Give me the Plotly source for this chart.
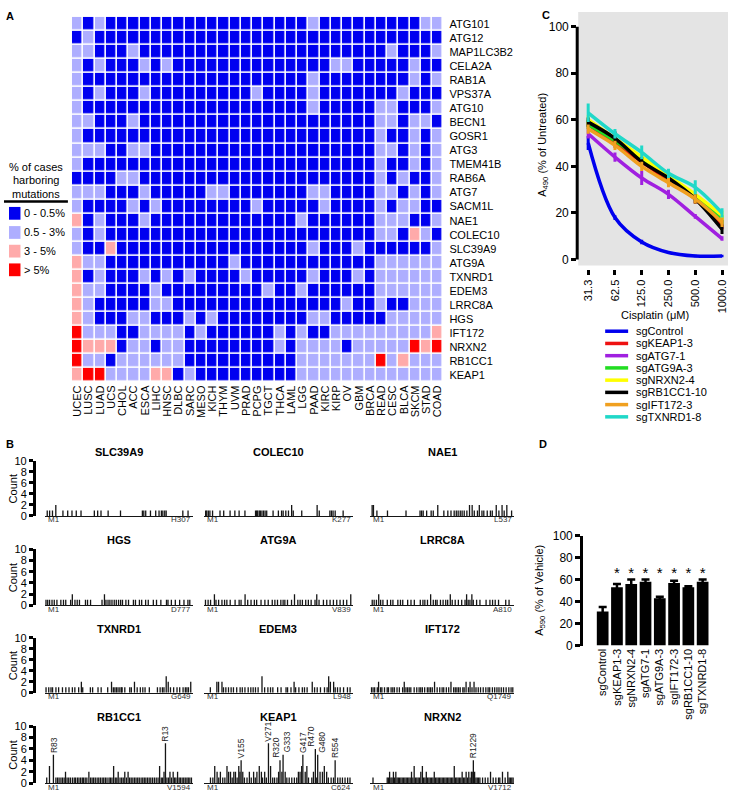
import math
import plotly.graph_objects as go

W, H = 729, 799
FONT = "Liberation Sans, Arial, Helvetica, sans-serif"


def fx(x):
    return x / W


def fy(y):
    return 1 - y / H


# ---------------- Panel A data ----------------
cancer_types = ["UCEC", "LUSC", "LUAD", "UCS", "CHOL", "ACC", "ESCA", "LIHC", "HNSC", "DLBC", "SARC",
                "MESO", "KICH", "THYM", "UVM", "PRAD", "PCPG", "TGCT", "THCA", "LAML", "LGG", "PAAD",
                "KIRC", "KIRP", "OV", "GBM", "BRCA", "READ", "CESC", "BLCA", "SKCM", "STAD", "COAD"]
genes = ["ATG101", "ATG12", "MAP1LC3B2", "CELA2A", "RAB1A", "VPS37A", "ATG10", "BECN1", "GOSR1", "ATG3",
         "TMEM41B", "RAB6A", "ATG7", "SACM1L", "NAE1", "COLEC10", "SLC39A9", "ATG9A", "TXNRD1", "EDEM3",
         "LRRC8A", "HGS", "IFT172", "NRXN2", "RB1CC1", "KEAP1"]
# 0: 0-0.5%, 1: 0.5-3%, 2: 3-5%, 3: >5%
mutation_bins = [
    [1,0,1,0,0,0,0,0,0,0,0,0,0,0,0, 0,0,0,0,0,0,1,0,0,0,0,0,0,0,0,0,1,1],
    [0,1,0,0,0,0,0,0,0,0,0,0,0,0,0, 0,0,0,0,0,0,0,0,0,0,0,0,0,0,0,0,0,0],
    [1,1,0,0,0,1,0,0,0,0,0,0,0,0,0, 0,0,0,0,0,0,0,0,0,0,0,0,0,1,0,0,0,1],
    [1,0,1,0,0,0,1,0,1,0,0,0,0,0,0, 0,0,0,0,0,0,0,0,1,1,0,0,0,0,0,1,0,0],
    [1,0,0,0,0,0,0,0,0,0,0,0,0,0,0, 0,0,0,0,0,0,1,0,0,0,0,0,0,0,0,1,0,1],
    [1,0,1,0,0,0,1,0,0,0,0,0,0,0,0, 0,1,0,0,0,0,1,0,0,0,0,0,0,0,1,0,0,0],
    [1,0,0,0,0,0,0,0,0,0,0,0,0,0,0, 0,0,0,0,0,0,1,0,0,0,0,0,1,1,0,0,0,1],
    [1,1,0,0,0,1,0,0,0,0,0,0,0,0,0, 0,0,0,0,0,0,0,0,0,0,0,0,1,1,0,1,1,0],
    [1,0,0,0,0,0,0,0,0,0,0,0,0,0,0, 0,0,0,0,0,0,0,0,0,0,0,0,1,0,0,1,0,1],
    [1,1,1,0,0,1,1,0,0,0,0,0,0,0,0, 0,0,0,0,0,0,0,0,0,0,0,0,1,1,0,1,0,1],
    [1,0,0,0,0,0,0,0,0,0,0,0,0,0,0, 0,0,0,0,0,0,0,0,0,0,0,0,1,0,0,1,0,1],
    [0,0,0,0,1,1,0,0,0,0,0,0,0,0,0, 0,0,0,0,0,0,0,0,0,0,0,0,1,0,1,0,0,1],
    [1,1,1,0,0,0,1,0,0,0,0,0,1,1,0, 0,0,0,0,0,0,1,1,0,0,0,0,1,1,0,1,0,1],
    [1,0,0,0,0,1,0,1,0,0,0,0,0,0,0, 0,1,0,0,0,0,0,1,0,0,0,0,1,0,1,1,0,0],
    [2,0,1,0,0,0,1,0,0,0,0,0,0,0,0, 0,0,0,0,0,1,0,0,0,0,0,0,1,1,1,0,0,1],
    [1,0,1,0,0,0,0,0,0,0,0,0,0,0,0, 0,0,0,0,0,0,0,0,0,0,0,0,1,1,0,2,1,0],
    [1,0,0,2,0,0,0,0,0,0,0,0,0,0,0, 0,0,0,0,0,0,1,0,0,0,1,0,0,0,0,0,0,1],
    [2,1,1,0,0,0,0,0,0,0,0,0,0,0,1, 0,0,0,0,0,0,0,0,0,0,0,0,1,1,1,1,1,1],
    [2,0,1,0,0,0,1,0,1,0,1,0,0,0,0, 1,0,0,0,0,0,1,0,0,0,1,0,1,1,1,1,1,1],
    [2,1,1,0,0,0,0,1,0,0,0,0,0,0,0, 0,0,1,0,0,1,0,0,0,0,0,0,1,1,1,1,1,1],
    [2,1,0,0,0,0,0,1,1,0,0,0,0,0,0, 0,0,0,0,0,0,0,0,0,1,0,0,1,0,0,1,1,1],
    [2,1,0,0,0,1,1,0,0,0,1,0,1,0,0, 0,0,0,0,0,0,1,1,0,0,0,0,0,1,1,1,1,1],
    [3,1,1,1,0,0,1,1,1,1,0,1,0,0,0, 0,0,0,1,0,1,0,0,1,1,1,1,1,1,1,1,1,2],
    [3,2,2,2,0,1,1,0,1,1,0,0,0,0,0, 0,0,0,1,0,1,1,1,1,0,1,1,1,1,1,3,2,3],
    [3,1,1,0,1,1,1,1,1,1,0,0,0,0,0, 0,0,0,0,0,1,1,1,1,1,1,1,3,1,2,1,1,1],
    [2,3,3,1,1,1,1,2,2,0,1,0,0,0,0, 0,0,0,0,0,1,1,1,1,1,1,1,1,1,1,1,1,1],
]
bin_labels = ["0 - 0.5%", "0.5 - 3%", "3 - 5%", "> 5%"]
bin_colors = ["#0000f0", "#aeaeff", "#ffaaaa", "#ff0000"]
legend_title_lines = ["% of cases", "harboring", "mutations"]

# ---------------- Panel B data ----------------
b_genes = ["SLC39A9", "COLEC10", "NAE1", "HGS", "ATG9A", "LRRC8A",
           "TXNRD1", "EDEM3", "IFT172", "RB1CC1", "KEAP1", "NRXN2"]
b_lengths = [307, 277, 537, 777, 839, 810, 649, 948, 1749, 1594, 624, 1712]
b_start_labels = ["M1", "M1", "M1", "M1", "M1", "M1", "M1", "M1", "M1", "M1", "M1", "M1"]
b_end_labels = ["H307", "K277", "L537", "D777", "V839", "A810", "G649", "L948", "Q1749", "V1594", "C624", "V1712"]

slc39a9_needles = [(3,1),(8,1),(14,1),(21,2),(36,1),(46,1),(55,1),(64,1),(74,1),(102,1),(109,1),(116,1),
                   (131,1),(157,1),(203,1),(206,1),(210,1),(220,1),(231,1),(238,1),(243,1),(246,1),(250,1),
                   (253,1),(288,1),(299,1)]
colec10_needles = [(2,1),(4,1),(7,1),(10,1),(15,1),(29,1),(36,1),(48,1),(57,1),(65,1),(76,1),(96,1),(98,1),
                   (100,1),(103,1),(105,1),(108,1),(111,1),(114,1),(117,1),(129,1),(139,1),(145,1),(148,1),
                   (153,1),(158,1),(164,2),(167,1),(183,1),(212,2),(216,1),(236,1),(239,1),(242,1),(246,1),(261,1)]
nae1_needles = [(3,2),(8,2),(21,1),(61,1),(131,1),(184,1),(190,1),(196,1),(209,1),(226,1),(234,1),(251,2),
                (274,1),(289,1),(301,1),(313,1),(321,1),(328,1),(336,1),(343,1),(351,1),(361,1),(371,2),(381,2),
                (389,1),(401,1),(408,2),(418,1),(425,1),(438,1),(450,1),(457,1),(472,2),(482,1),(494,2),(502,1),
                (512,2),(530,1)]
hgs_needles = [(1,1),(10,1),(20,1),(33,1),(45,1),(59,1),(80,1),(94,1),(106,1),(132,1),(141,2),(155,1),(167,1),
               (179,1),(211,1),(222,1),(238,1),(299,1),(312,2),(320,1),(331,1),(341,1),(352,1),(364,1),(375,1),
               (387,1),(398,1),(408,1),(426,1),(440,1),(466,1),(477,1),(498,1),(510,1),(531,1),(545,1),(572,1),
               (589,1),(612,1),(642,1),(650,1),(668,1),(689,1),(712,1),(735,1),(756,1),(766,1)]
atg9a_needles = [(5,1),(20,1),(34,1),(56,2),(65,1),(80,1),(99,1),(114,1),(127,1),(146,1),(174,1),(197,1),
                 (208,1),(231,2),(246,1),(265,1),(284,1),(297,1),(322,1),(344,1),(363,1),(386,1),(401,1),
                 (416,1),(435,1),(448,1),(458,1),(473,1),(496,1),(513,2),(532,1),(545,1),(558,1),(577,1),
                 (592,1),(608,1),(630,1),(640,2),(653,1),(678,1),(697,1),(716,1),(735,1),(754,1),(773,1),
                 (792,1),(811,1),(834,2)]
lrrc8a_needles = [(5,1),(16,1),(29,1),(42,2),(53,1),(66,1),(91,1),(110,1),(123,1),(151,1),(166,1),(179,1),
                  (207,1),(226,1),(245,1),(279,1),(294,1),(305,1),(320,1),(338,2),(353,1),(366,1),(375,1),
                  (394,1),(409,1),(424,1),(435,1),(450,2),(461,1),(478,1),(496,1),(515,1),(534,1),(543,2),
                  (552,1),(562,1),(573,2),(581,1),(600,1),(619,1),(654,1),(676,1),(691,1),(706,1),(725,1),
                  (766,1),(785,1)]
txnrd1_needles = [(1,1),(13,1),(23,1),(30,1),(45,1),(57,1),(74,1),(89,1),(103,1),(118,1),(129,1),(146,1),
                  (158,2),(164,1),(198,1),(208,1),(232,1),(246,1),(275,1),(292,2),(300,1),(307,1),(314,1),
                  (321,1),(329,1),(336,1),(339,1),(351,1),(373,1),(380,1),(394,2),(406,1),(420,1),(431,1),
                  (441,1),(460,1),(496,1),(508,1),(518,1),(525,1),(535,3),(544,2),(554,1),(568,1),(583,1),
                  (595,1),(610,1),(620,1),(627,1),(634,1),(644,2)]
edem3_needles = [(37,1),(79,2),(90,2),(112,2),(122,1),(137,1),(154,1),(171,1),(186,1),(207,1),(229,1),(243,1),
                 (260,1),(281,1),(298,1),(313,1),(328,1),(345,1),(370,3),(387,1),(408,1),(425,1),(440,1),
                 (471,1),(493,1),(525,1),(535,1),(557,1),(577,2),(587,1),(608,1),(630,1),(644,1),(661,1),
                 (694,2),(709,1),(726,1),(747,1),(773,1),(790,1),(800,3),(811,2),(832,2),(842,1),(857,1),
                 (874,1),(896,1),(921,1),(938,1)]
ift172_needles = [(1,1),(21,1),(41,1),(73,1),(89,2),(114,1),(130,1),(162,1),(195,1),(211,1),(243,1),(264,1),
                  (284,1),(316,1),(345,1),(385,1),(405,2),(426,1),(446,1),(466,1),(486,1),(527,1),(559,1),
                  (588,1),(608,1),(628,1),(656,1),(689,1),(709,1),(729,1),(750,1),(778,2),(810,1),(842,1),
                  (871,1),(891,1),(923,1),(952,1),(980,2),(1013,1),(1033,1),(1053,1),(1073,1),(1094,1),
                  (1126,1),(1142,1),(1166,2),(1195,1),(1215,2),(1239,1),(1264,2),(1288,1),(1316,1),(1344,1),
                  (1377,1),(1409,1),(1437,1),(1457,1),(1490,1),(1518,1),(1546,1),(1571,1),(1599,1),(1627,1),
                  (1659,1),(1692,1),(1720,1),(1741,1)]
rb1cc1_needles = [(10,1),(40,3),(83,5),(110,1),(128,1),(145,1),(165,1),(182,1),(200,1),(215,2),(232,1),(250,1),
                  (268,1),(290,1),(310,1),(325,1),(345,1),(362,1),(380,1),(398,1),(412,1),(430,1),(448,1),
                  (470,2),(488,1),(505,1),(522,1),(540,1),(560,1),(578,1),(596,1),(615,1),(632,1),(650,1),
                  (668,1),(690,1),(705,1),(722,1),(740,3),(758,1),(775,1),(790,2),(810,1),(828,1),(845,1),
                  (862,2),(880,1),(898,2),(915,1),(932,1),(950,1),(968,1),(985,1),(1003,1),(1020,1),(1040,1),
                  (1058,1),(1075,1),(1092,1),(1110,1),(1128,1),(1146,1),(1165,1),(1185,1),(1205,1),(1225,1),
                  (1242,3),(1260,1),(1275,1),(1290,2),(1306,7),(1322,1),(1340,1),(1355,2),(1372,1),(1390,2),
                  (1405,1),(1420,1),(1438,2),(1455,1),(1470,1),(1488,1),(1505,1),(1522,1),(1540,1),(1555,1),
                  (1572,1),(1590,1)]
keap1_needles = [(25,1),(35,1),(43,3),(53,2),(60,1),(67,2),(77,1),(86,1),(95,3),(102,2),(110,2),(117,1),
                 (124,2),(131,2),(138,1),(145,3),(150,2),(155,4),(162,2),(169,1),(180,1),(190,2),(198,1),
                 (208,2),(215,1),(222,2),(232,3),(241,2),(246,1),(255,2),(262,1),(271,7),(280,3),(289,1),
                 (297,1),(307,1),(314,2),(320,4),(328,2),(333,5),(342,2),(349,1),(359,1),(370,1),(381,1),
                 (391,1),(398,2),(405,2),(412,3),(417,5),(427,2),(434,3),(441,1),(455,1),(462,2),(470,6),
                 (476,1),(480,5),(490,2),(500,2),(508,3),(518,2),(525,1),(537,1),(547,1),(554,4),(565,1),
                 (575,1),(585,1),(596,1),(607,1),(617,1)]
nrxn2_needles = [(20,1),(191,1),(205,1),(220,2),(236,1),(250,1),(266,2),(280,1),(295,2),(310,1),(325,1),
                 (340,1),(356,1),(372,1),(388,1),(404,1),(420,1),(436,1),(452,1),(468,1),(484,2),(500,1),
                 (516,3),(532,1),(548,1),(564,1),(580,1),(596,2),(615,3),(630,1),(646,1),(662,2),(678,1),
                 (694,1),(710,1),(726,1),(742,1),(758,2),(774,1),(790,1),(806,1),(822,1),(838,1),(854,1),
                 (870,1),(886,1),(902,1),(918,1),(934,1),(950,1),(966,1),(982,1),(999,3),(1015,1),(1030,1),
                 (1046,1),(1062,1),(1078,1),(1094,2),(1110,1),(1126,1),(1142,2),(1158,1),(1174,2),(1190,1),
                 (1205,2),(1215,2),(1229,4),(1244,2),(1260,1),(1276,1),(1292,1),(1308,1),(1340,1),(1372,1),
                 (1404,1),(1436,2),(1468,1),(1500,1),(1532,1),(1548,1),(1580,2),(1612,1),(1644,2),(1660,1),
                 (1676,1),(1692,1),(1708,1)]
b_needles = [slc39a9_needles, colec10_needles, nae1_needles, hgs_needles, atg9a_needles, lrrc8a_needles,
             txnrd1_needles, edem3_needles, ift172_needles, rb1cc1_needles, keap1_needles, nrxn2_needles]

hotspot_gene = ["RB1CC1", "RB1CC1", "KEAP1", "KEAP1", "KEAP1", "KEAP1", "KEAP1", "KEAP1", "KEAP1", "KEAP1", "NRXN2"]
hotspot_pos = [83, 1306, 155, 271, 320, 333, 417, 470, 480, 554, 1229]
hotspot_cnt = [5, 7, 4, 7, 4, 5, 5, 6, 5, 4, 4]
hotspot_text = ["R83", "R13", "V155", "V271", "R320", "G333", "G417", "R470", "G480", "R554", "R1229"]

# ---------------- Panel C data ----------------
doses = [31.25, 62.5, 125, 250, 500, 1000]
dose_labels = ["31.3", "62.5", "125.0", "250.0", "500.0", "1000.0"]
c_series = ["sgControl", "sgKEAP1-3", "sgATG7-1", "sgATG9A-3", "sgNRXN2-4", "sgRB1CC1-10", "sgIFT172-3", "sgTXNRD1-8"]
c_colors = ["#0000ee", "#ee1111", "#a020e0", "#22dd22", "#ffff00", "#000000", "#f0a020", "#20d8c8"]
c_means = [
    [50, 18, 7.5, 3, 1.5, 1.5],
    [58, 50, 42, 34, 26, 15],
    [54, 44, 35, 28, 18.5, 9],
    [58, 51, 43, 35, 27, 17],
    [60, 52, 44, 36, 28, 19],
    [59, 52, 42, 35, 26, 13],
    [56, 49, 40, 33, 26, 16],
    [63, 54, 46, 37, 31, 20],
]
c_errs = [
    [3, 1, 1, 0.5, 0.5, 0.5],
    [2, 2, 2, 2, 2, 2],
    [2, 2, 3, 2, 1, 1],
    [2, 2, 2, 2, 2, 2],
    [2, 2, 2, 2, 2, 2],
    [2, 3, 2, 2, 2, 2],
    [2, 2, 2, 2, 2, 2],
    [4, 2, 3, 2, 3, 2],
]

# ---------------- Panel D data ----------------
d_labels = ["sgControl", "sgKEAP1-3", "sgNRXN2-4", "sgATG7-1", "sgATG9A-3", "sgIFT172-3", "sgRB1CC1-10", "sgTXNRD1-8"]
d_values = [31, 53, 56, 58, 43, 57, 53, 58]
d_errors = [4, 3, 4, 2, 1.5, 2, 1, 2]
d_sig = ["", "*", "*", "*", "*", "*", "*", "*"]

# =====================================================
fig = go.Figure()
annotations = []
shapes = []
layout = {}


def text(x, y, s, size=11, xanchor="center", yanchor="middle", bold=False, angle=0, color="black",
         xref="paper", yref="paper", xshift=0):
    annotations.append(dict(x=x, y=y, xref=xref, yref=yref, text=("<b>%s</b>" % s) if bold else s,
                            showarrow=False, xanchor=xanchor, yanchor=yanchor, textangle=angle,
                            font=dict(size=size, color=color, family=FONT), xshift=xshift))


# ---------- Panel A ----------
nb = len(bin_colors)
cscale = []
for i, c in enumerate(bin_colors):
    cscale.append([i / nb, c])
    cscale.append([(i + 1) / nb, c])
fig.add_trace(go.Heatmap(z=mutation_bins, x=cancer_types, y=genes, zmin=-0.5, zmax=nb - 0.5,
                         colorscale=cscale, showscale=False, xgap=1.6, ygap=1.6,
                         xaxis="x", yaxis="y", hoverinfo="skip"))
layout["xaxis"] = dict(domain=[fx(71), fx(443)], anchor="y", tickangle=-90, tickfont=dict(size=11),
                       tickmode="array", tickvals=cancer_types, ticktext=cancer_types,
                       showgrid=False, zeroline=False, ticks="", showline=False)
layout["yaxis"] = dict(domain=[fy(382), fy(10)], anchor="x", autorange="reversed", side="right",
                       tickmode="array", tickvals=genes, ticktext=genes, ticklabelstandoff=5,
                       tickfont=dict(size=11), showgrid=False, zeroline=False, ticks="")

text(fx(3), fy(9), "A", size=11, xanchor="left", bold=True)
for j, line in enumerate(legend_title_lines):
    text(fx(35), fy(163 + 13.5 * j), line, size=11)
shapes.append(dict(type="line", xref="paper", yref="paper", x0=fx(3), x1=fx(67), y0=fy(198), y1=fy(198),
                   line=dict(color="black", width=2.5)))
leg_y = [210, 229.5, 248.5, 267.5]
for i, (lab, col) in enumerate(zip(bin_labels, bin_colors)):
    shapes.append(dict(type="rect", xref="paper", yref="paper", x0=fx(8), x1=fx(19.5),
                       y0=fy(leg_y[i] + 6.5), y1=fy(leg_y[i] - 6.5), fillcolor=col, line=dict(width=0)))
    text(fx(21), fy(leg_y[i]), lab, size=11, xanchor="left")

# ---------- Panel B ----------
text(fx(3), fy(445), "B", size=11, xanchor="left", bold=True)
b_cols = [(44, 192), (203, 352), (370, 514)]
b_rows = [(462, 518), (552, 609), (642, 698), (732, 790)]
label_shift = {"R320": -4, "G333": 4, "R470": -4, "G480": 4}
for i, g in enumerate(b_genes):
    k = i + 2
    r, c = divmod(i, 3)
    x0, x1 = b_cols[c]
    y0, y1 = b_rows[r]
    L = b_lengths[i]
    xs, ys = [], []
    for p, n in b_needles[i]:
        xs += [p, p, None]
        ys += [0, n, None]
    fig.add_trace(go.Scatter(x=xs, y=ys, mode="lines", line=dict(color="#151515", width=1.3),
                             xaxis="x%d" % k, yaxis="y%d" % k, hoverinfo="skip", showlegend=False))
    layout["xaxis%d" % k] = dict(domain=[fx(x0), fx(x1)], anchor="y%d" % k, range=[-L * 0.006, L * 1.006],
                                 showline=True, linecolor="#151515", linewidth=1, ticks="",
                                 showticklabels=False, showgrid=False, zeroline=False)
    ya = dict(domain=[fy(y1), fy(y0)], range=[0, 10], showgrid=False, zeroline=False)
    if c == 0:
        ya.update(anchor="free", position=fx(33), showline=True, linecolor="black", linewidth=3,
                  ticks="outside", ticklen=4, tickwidth=2.5, tickcolor="black",
                  tickvals=[0, 2, 4, 6, 8, 10], tickfont=dict(size=11))
        text(fx(12), fy((y0 + y1) / 2), "Count", size=11, angle=-90)
    else:
        ya.update(anchor="x%d" % k, showline=False, showticklabels=False, ticks="")
    layout["yaxis%d" % k] = ya
    text(fx((x0 + x1) / 2), fy(y0 - 9), g, size=11, bold=True)
    text(fx(x0 + 1), fy(y1 + 4), b_start_labels[i], size=8, xanchor="left", color="#333333")
    text(fx(x1), fy(y1 + 4), b_end_labels[i], size=8, xanchor="right", color="#333333")

for g, p, n, t in zip(hotspot_gene, hotspot_pos, hotspot_cnt, hotspot_text):
    k = b_genes.index(g) + 2
    text(p, n, t, size=8.5, angle=-90, yanchor="bottom", xref="x%d" % k, yref="y%d" % k,
         xshift=label_shift.get(t, 0), color="#222222")

# ---------- Panel C ----------
text(fx(540), fy(8), "C", size=11, xanchor="left", bold=True)
shapes.append(dict(type="rect", xref="paper", yref="paper", x0=fx(578), x1=fx(728), y0=fy(263), y1=fy(5),
                   fillcolor="#e4e4e4", line=dict(width=0), layer="below"))
for name, col, m, e in zip(c_series, c_colors, c_means, c_errs):
    fig.add_trace(go.Scatter(x=doses, y=m, mode="lines", name=name,
                             line=dict(color=col, width=3.5, shape="spline", smoothing=1.0),
                             error_y=dict(type="data", array=e, color=col, thickness=3, width=0),
                             xaxis="x14", yaxis="y14", hoverinfo="skip", showlegend=False))
lx0 = math.log10(doses[0])
lx1 = math.log10(doses[-1])
ppu = (722 - 588) / (lx1 - lx0)
layout["xaxis14"] = dict(domain=[fx(577), fx(728)], type="log",
                         range=[lx0 - (588 - 577) / ppu, lx1 + (728 - 722) / ppu],
                         anchor="free", position=fy(267), tickvals=doses, ticktext=dose_labels,
                         tickangle=-90, ticks="outside", ticklen=5, tickwidth=3, tickcolor="black",
                         tickfont=dict(size=11), showline=False, showgrid=False, zeroline=False)
ypu = (257 - 20) / 100.0
layout["yaxis14"] = dict(domain=[fy(263), fy(5)], range=[-(263 - 257) / ypu, 100 + (20 - 5) / ypu],
                         anchor="x14", tickvals=[0, 20, 40, 60, 80, 100], ticks="outside", ticklen=5,
                         tickwidth=3, tickcolor="black", tickfont=dict(size=12), showline=False,
                         showgrid=False, zeroline=False)
shapes.append(dict(type="line", xref="x14", yref="paper", x0=lx0, x1=lx1, y0=fy(267), y1=fy(267),
                   line=dict(color="black", width=3)))
shapes.append(dict(type="line", xref="paper", yref="y14", x0=fx(577), x1=fx(577), y0=0, y1=100,
                   line=dict(color="black", width=3)))
text(fx(542), fy(140), "A<sub>490</sub> (% of Untreated)", size=11, angle=-90)
text(fx(655), fy(313), "Cisplatin (μM)", size=11)
for i, (name, col) in enumerate(zip(c_series, c_colors)):
    yy = 330 + 12.45 * i
    shapes.append(dict(type="line", xref="paper", yref="paper", x0=fx(605), x1=fx(628), y0=fy(yy), y1=fy(yy),
                       line=dict(color=col, width=3.5)))
    text(fx(634), fy(yy), name, size=11, xanchor="left")

# ---------- Panel D ----------
text(fx(537), fy(445), "D", size=11, xanchor="left", bold=True)
fig.add_trace(go.Bar(x=d_labels, y=d_values, width=0.82, marker=dict(color="black", line=dict(width=0)),
                     error_y=dict(type="data", array=d_errors, color="black", thickness=2.5, width=4),
                     xaxis="x15", yaxis="y15", hoverinfo="skip", showlegend=False))
sig_x = [lab for lab, s in zip(d_labels, d_sig) if s]
sig_t = [s for s in d_sig if s]
fig.add_trace(go.Scatter(x=sig_x, y=[65] * len(sig_x), mode="text", text=sig_t,
                         textfont=dict(size=15, color="black"), xaxis="x15", yaxis="y15",
                         hoverinfo="skip", showlegend=False))
bpu = 14.3
layout["xaxis15"] = dict(domain=[fx(583), fx(711)], anchor="y15", type="category",
                         range=[-(602.5 - 583) / bpu, (711 - 602.5) / bpu], tickangle=-90, ticks="",
                         tickfont=dict(size=11), showline=False, showgrid=False, zeroline=False)
layout["yaxis15"] = dict(domain=[fy(650), fy(538)], anchor="x15", range=[0, 100],
                         tickvals=[0, 20, 40, 60, 80, 100], ticks="outside", ticklen=5, tickwidth=3,
                         tickcolor="black", tickfont=dict(size=12), showline=True, linewidth=3,
                         linecolor="black", showgrid=False, zeroline=False)
text(fx(539), fy(594), "A<sub>590</sub> (% of Vehicle)", size=11, angle=-90)

fig.update_layout(width=W, height=H, margin=dict(l=0, r=0, t=0, b=0), paper_bgcolor="white",
                  plot_bgcolor="white", font=dict(family=FONT, color="black", size=11), showlegend=False,
                  annotations=annotations, shapes=shapes, **layout)
fig.write_html("out.html", config={"displayModeBar": False},
               post_script="document.body.style.margin='0px';document.body.style.padding='0px';")
